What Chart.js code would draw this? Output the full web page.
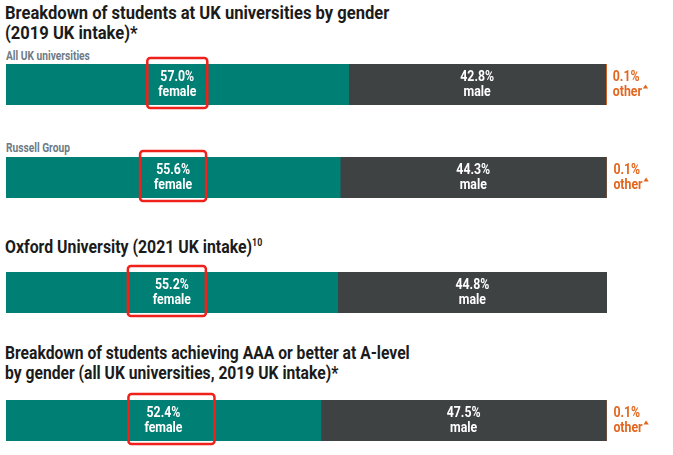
<!DOCTYPE html>
<html>
<head>
<meta charset="utf-8">
<script src="https://cdn.jsdelivr.net/npm/chart.js@4"></script>
<style>
  body { margin: 0; background: #fff; width: 673px; height: 455px; position: relative; overflow: hidden;
         font-family: Roboto, sans-serif; }
  .title { position: absolute; left: 5px; font-weight: bold; font-size: 18px; line-height: 20px; color: #1b1b1b;
           white-space: nowrap; transform-origin: 0 0; }
  .sub { position: absolute; left: 6px; font-weight: bold; font-size: 12px; color: #6e7a85;
         white-space: nowrap; transform: scaleX(0.85); transform-origin: 0 0; }
  .title sup { font-size: 10px; vertical-align: 7px; line-height: 0; }
  .bar { position: absolute; left: 0; width: 673px; }
</style>
</head>
<body>
<div class="title" style="top:3px; transform: scaleX(0.92)">Breakdown of students at UK universities by gender<br>(2019 UK intake)*</div>
<div class="sub" style="top:49px">All UK universities</div>
<div class="sub" style="top:141px">Russell Group</div>
<div class="title" style="top:237px; transform: scaleX(0.88)">Oxford University (2021 UK intake)<sup>10</sup></div>
<div class="title" style="top:343px; transform: scaleX(0.87)">Breakdown of students achieving AAA or better at A-level<br>by gender (all UK universities, 2019 UK intake)*</div>

<div class="bar" style="top:56px"><canvas id="c0" width="673" height="57"></canvas></div>
<div class="bar" style="top:149px"><canvas id="c1" width="673" height="57"></canvas></div>
<div class="bar" style="top:264px"><canvas id="c2" width="673" height="57"></canvas></div>
<div class="bar" style="top:392px"><canvas id="c3" width="673" height="57"></canvas></div>

<script>
// ---- data ----
const groups = ['All UK universities', 'Russell Group', 'Oxford University', 'AAA or better at A-level'];
const female = [57.0, 55.6, 55.2, 52.4];
const male = [42.8, 44.3, 44.8, 47.5];
const other = [0.1, 0.1, null, 0.1];
const seriesNames = ['female', 'male', 'other'];

// red hand-drawn highlight boxes around the female label: [shift from label centre, width]
const highlight = [[0, 60], [0, 66], [-5, 78], [8, 86]];

const TEAL = '#007f74';
const DARK = '#3e4243';
const ORANGE = '#e2661f';
const FONT = 'Roboto, sans-serif';

// draws the in-bar labels, the "other" label and the red highlight box
function labelPlugin(idx) {
  return {
    id: 'segLabels',
    afterDatasetsDraw(chart) {
      const ctx = chart.ctx;
      ctx.save();
      chart.data.datasets.forEach((ds, di) => {
        const v = ds.data[0];
        if (v == null) return;
        const el = chart.getDatasetMeta(di).data[0];
        const top = el.y - el.height / 2;
        const bottom = el.y + el.height / 2;
        ctx.font = 'bold 14px ' + FONT;
        ctx.textBaseline = 'middle';
        if (di < 2) {
          const cx = (el.base + el.x) / 2;
          ctx.save();
          ctx.translate(cx, 0);
          ctx.scale(0.88, 1);
          ctx.fillStyle = '#fff';
          ctx.textAlign = 'center';
          ctx.fillText(v.toFixed(1) + '%', 0, el.y - 7);
          ctx.fillText(seriesNames[di], 0, el.y + 8);
          ctx.restore();
          if (di === 0) {
            const [dx, w] = highlight[idx];
            ctx.strokeStyle = '#f0201a';
            ctx.lineWidth = 2.5;
            ctx.beginPath();
            ctx.roundRect(cx + dx - w / 2, top - 6, w, bottom - top + 9, 3);
            ctx.stroke();
          }
        } else {
          const x = el.x + 5;
          ctx.save();
          ctx.translate(x, 0);
          ctx.scale(0.88, 1);
          ctx.fillStyle = ORANGE;
          ctx.textAlign = 'left';
          ctx.fillText(v.toFixed(1) + '%', 0, el.y - 7);
          ctx.fillText(seriesNames[di], 0, el.y + 8);
          const w = ctx.measureText(seriesNames[di]).width;
          // small triangle marker
          ctx.beginPath();
          ctx.moveTo(w + 1, el.y + 4);
          ctx.lineTo(w + 7, el.y + 4);
          ctx.lineTo(w + 4, el.y);
          ctx.closePath();
          ctx.fill();
          ctx.restore();
        }
      });
      ctx.restore();
    }
  };
}

groups.forEach((g, i) => {
  new Chart(document.getElementById('c' + i), {
    type: 'bar',
    data: {
      labels: [g],
      datasets: [
        { label: 'female', data: [female[i]], backgroundColor: TEAL },
        { label: 'male', data: [male[i]], backgroundColor: DARK },
        { label: 'other', data: [other[i]], backgroundColor: ORANGE, minBarLength: 2 },
      ],
    },
    options: {
      indexAxis: 'y',
      responsive: false,
      animation: false,
      layout: { padding: { left: 6, right: 66, top: 8, bottom: 8 } },
      datasets: { bar: { barPercentage: 1, categoryPercentage: 1 } },
      scales: {
        x: { stacked: true, min: 0, max: 100, display: false },
        y: { stacked: true, display: false },
      },
      plugins: { legend: { display: false }, tooltip: { enabled: false } },
    },
    plugins: [labelPlugin(i)],
  });
});
</script>
</body>
</html>
